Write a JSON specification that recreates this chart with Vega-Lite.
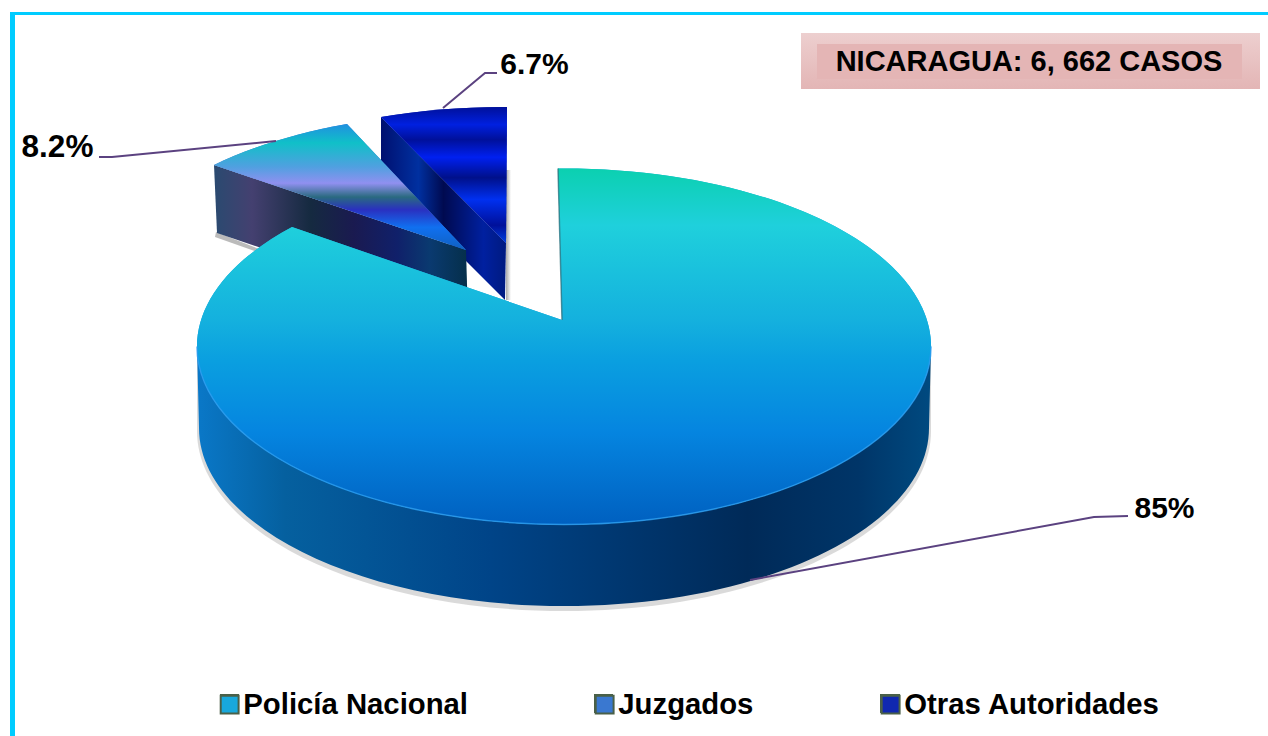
{
"$schema":"https://vega.github.io/schema/vega-lite/v6.json",
"width":1268,"height":736,"padding":0,
"autosize":{"type":"fit","contains":"padding"},
"background":"white",
"config":{"view":{"stroke":null}},
"data":{"values":[
{"authority":"Otras Autoridades","share":6.7,"label":"6.7%"},
{"authority":"Juzgados","share":8.2,"label":"8.2%"},
{"authority":"Policía Nacional","share":85,"label":"85%"}
]},
"resolve":{"scale":{"shape":"independent"}},
"layer":[
{"data":{"values":[{"caption":"NICARAGUA: 6, 662 CASOS"}]},
 "mark":{"type":"point","filled":true,"size":4,"opacity":1,"fill":"#00CCFF","shape":"M-624,368H-619V-353H634V-356H-624Z"}},
{"data":{"values":[{"caption":"NICARAGUA: 6, 662 CASOS"}]},
 "mark":{"type":"point","filled":true,"size":4,"opacity":1,"shape":"M167,-335H626V-279H167Z",
  "fill":{"gradient":"linear","x1":0,"y1":0,"x2":0,"y2":1,"stops":[{"offset":0,"color":"#EDCFCF"},{"offset":1,"color":"#E3B5B5"}]}}},
{"data":{"values":[{"caption":"NICARAGUA: 6, 662 CASOS"}]},
 "mark":{"type":"point","filled":true,"size":4,"opacity":1,"fill":"#E4B5B5","shape":"M183,-324H608V-289H183Z"}},
{"data":{"values":[{"caption":"NICARAGUA: 6, 662 CASOS"}]},
 "mark":{"type":"text","font":"Liberation Sans","fontWeight":"bold","fontSize":29,"color":"#000000","align":"center","baseline":"middle","dx":395,"dy":-306},
 "encoding":{"text":{"field":"caption"}}},

{"transform":[{"filter":"datum.share==6.7"}],
 "mark":{"type":"point","filled":true,"size":4,"opacity":1,"shape":"M-128,-198H-123V-68H-128Z",
  "fill":{"gradient":"linear","x1":0,"y1":0,"x2":1,"y2":0,"stops":[{"offset":0,"color":"#AAAAAA"},{"offset":1,"color":"#FFFFFF"}]}}},
{"transform":[{"filter":"datum.share==6.7"}],
 "mark":{"type":"point","filled":true,"size":4,"opacity":1,"shape":"M-253,-251L-128,-125L-129,-68L-253,-192Z",
  "fill":{"gradient":"linear","x1":0,"y1":0,"x2":1,"y2":0,"stops":[{"offset":0,"color":"#001070"},{"offset":0.3,"color":"#0030A0"},{"offset":0.5,"color":"#000A50"},{"offset":0.82,"color":"#0020A0"},{"offset":1,"color":"#001A80"}]}}},
{"transform":[{"filter":"datum.share==8.2"}],
 "mark":{"type":"point","filled":true,"size":4,"opacity":0.5,"fill":"#777777","shape":"M-418,-136L-370,-117L-374,-115L-419,-131Z"}},
{"transform":[{"filter":"datum.share==8.2"}],
 "mark":{"type":"point","filled":true,"size":4,"opacity":1,"shape":"M-420,-203L-168,-118L-166,-50L-417,-135Z",
  "fill":{"gradient":"linear","x1":0,"y1":0,"x2":1,"y2":0,"stops":[{"offset":0,"color":"#2A4A70"},{"offset":0.15,"color":"#444070"},{"offset":0.38,"color":"#152A40"},{"offset":0.55,"color":"#1A1A50"},{"offset":0.72,"color":"#10206A"},{"offset":0.85,"color":"#0A3A70"},{"offset":1,"color":"#052F4A"}]}}},
{"transform":[{"filter":"datum.share==85"}],
 "mark":{"type":"point","filled":true,"size":4,"opacity":0.22,"fill":"#555555","shape":"M-437,-15L-437,63A367,180 0 0 0 297,63L297,-15Z"}},
{"transform":[{"filter":"datum.share==85"}],
 "mark":{"type":"point","filled":true,"size":4,"opacity":1,"shape":"M-437,-21.5L-435,60A365,178 0 0 0 295,60L297,-21.5A367,178 0 0 1 -437,-21.5Z",
  "fill":{"gradient":"linear","x1":0,"y1":0,"x2":1,"y2":0,"stops":[{"offset":0,"color":"#0A78C8"},{"offset":0.12,"color":"#05609F"},{"offset":0.4,"color":"#004488"},{"offset":0.75,"color":"#002A58"},{"offset":0.9,"color":"#003568"},{"offset":1,"color":"#004A80"}]}}},

{"mark":{"type":"point","filled":true,"size":4,"opacity":1},
 "encoding":{
  "shape":{"field":"authority","type":"nominal","legend":null,"scale":{"domain":["Policía Nacional","Juzgados","Otras Autoridades"],"range":["M-72,-48L-76,-199.5A367,178 0 1 1 -342,-141Z","M-420,-203A367,178 0 0 1 -287,-244L-168,-118Z","M-253,-251A367,178 0 0 1 -127,-261L-128,-125Z"]}},
  "fill":{"field":"authority","type":"nominal","sort":null,
   "scale":{"domain":["Policía Nacional","Juzgados","Otras Autoridades"],"range":["#18A8DC","#3A78D0","#1028B0"]},
   "legend":{"title":null,"orient":"none","legendX":215,"legendY":690,"zindex":0,"direction":"horizontal","columns":3,"gridAlign":"none","columnPadding":122,"symbolType":"square","symbolSize":320,"symbolStrokeColor":"#4A6048","symbolStrokeWidth":2,"labelFont":"Liberation Sans","labelFontWeight":"bold","labelFontSize":29.3,"labelColor":"#000000","labelLimit":500,"labelOffset":-1}}
 }},
{"transform":[{"filter":"datum.share==6.7"}],
 "mark":{"type":"point","filled":true,"size":4,"opacity":1,"shape":"M-253,-251A367,178 0 0 1 -127,-261L-128,-125Z",
  "fill":{"gradient":"linear","x1":0,"y1":0,"x2":0,"y2":1,"stops":[{"offset":0,"color":"#00109A"},{"offset":0.13,"color":"#0020E0"},{"offset":0.24,"color":"#00109A"},{"offset":0.37,"color":"#0020F0"},{"offset":0.52,"color":"#00108A"},{"offset":0.68,"color":"#0030F0"},{"offset":0.87,"color":"#00109A"},{"offset":1,"color":"#0040E0"}]}}},
{"transform":[{"filter":"datum.share==8.2"}],
 "mark":{"type":"point","filled":true,"size":4,"opacity":1,"shape":"M-420,-203A367,178 0 0 1 -287,-244L-168,-118Z",
  "fill":{"gradient":"linear","x1":0,"y1":0,"x2":0,"y2":1,"stops":[{"offset":0,"color":"#2090E0"},{"offset":0.15,"color":"#10C0C8"},{"offset":0.34,"color":"#50A0E0"},{"offset":0.47,"color":"#9090F0"},{"offset":0.58,"color":"#2A6A80"},{"offset":0.68,"color":"#2A30C0"},{"offset":0.82,"color":"#1070F0"},{"offset":1,"color":"#1060C0"}]}}},
{"transform":[{"filter":"datum.share==85"}],
 "mark":{"type":"point","filled":true,"size":4,"opacity":1,"shape":"M-72,-48L-76,-199.5A367,178 0 1 1 -342,-141Z",
  "fill":{"gradient":"linear","x1":0,"y1":0,"x2":0,"y2":1,"stops":[{"offset":0,"color":"#0BD0B0"},{"offset":0.16,"color":"#1FD0DC"},{"offset":0.43,"color":"#14B0DE"},{"offset":0.54,"color":"#0A9FE0"},{"offset":0.74,"color":"#0585E0"},{"offset":1,"color":"#0060C0"}]}}},
{"transform":[{"filter":"datum.share==85"}],
 "mark":{"type":"point","filled":false,"size":4,"opacity":0.8,"stroke":"#2A9CF0","strokeWidth":1.5,"shape":"M-437,-21.5A367,178 0 0 0 297,-21.5"}},
{"transform":[{"filter":"datum.share==85"}],
 "mark":{"type":"point","filled":false,"size":4,"opacity":0.7,"stroke":"#2F6F7A","strokeWidth":1.5,"shape":"M-76,-199.5L-72,-48"}},

{"transform":[{"filter":"datum.share==85"}],
 "mark":{"type":"point","filled":true,"size":4,"opacity":1,"stroke":"#4A6048","strokeWidth":2,"shape":"M-413,327H-396V344H-413Z",
  "fill":{"gradient":"linear","x1":0,"y1":0,"x2":0,"y2":1,"stops":[{"offset":0,"color":"#30E8F0"},{"offset":1,"color":"#1080D0"}]}}},
{"transform":[{"filter":"datum.share==8.2"}],
 "mark":{"type":"point","filled":true,"size":4,"opacity":1,"stroke":"#4A6048","strokeWidth":2,"shape":"M-39,327H-22V344H-39Z",
  "fill":{"gradient":"linear","x1":0,"y1":0,"x2":0,"y2":1,"stops":[{"offset":0,"color":"#2080C0"},{"offset":0.45,"color":"#A0B0F0"},{"offset":1,"color":"#2848C0"}]}}},
{"transform":[{"filter":"datum.share==6.7"}],
 "mark":{"type":"point","filled":true,"size":4,"opacity":1,"stroke":"#4A6048","strokeWidth":2,"shape":"M247,327H265V344H247Z",
  "fill":{"gradient":"linear","x1":0,"y1":0,"x2":0,"y2":1,"stops":[{"offset":0,"color":"#102090"},{"offset":0.5,"color":"#0030F0"},{"offset":1,"color":"#1030B0"}]}}},

{"mark":{"type":"point","filled":false,"size":4,"opacity":1,"stroke":"#5B4280","strokeWidth":2},
 "encoding":{"shape":{"field":"authority","type":"nominal","legend":null,"scale":{"domain":["Policía Nacional","Juzgados","Otras Autoridades"],"range":["M116,212L460,149L494,148","M-535,-211L-522,-211L-358,-227","M-191,-260L-149,-295L-137,-295"]}}}},
{"mark":{"type":"text","font":"Liberation Sans","fontWeight":"bold","color":"#000000","align":"center","baseline":"middle"},
 "encoding":{
  "text":{"field":"label"},
  "x":{"field":"share","type":"quantitative","axis":null,"scale":{"domain":[6.7,8.2,85],"range":[534.5,57.5,1164.5],"nice":false,"zero":false}},
  "y":{"field":"share","type":"quantitative","axis":null,"scale":{"domain":[6.7,8.2,85],"range":[65,148,509],"nice":false,"zero":false}},
  "size":{"field":"share","type":"quantitative","legend":null,"scale":{"domain":[6.7,8.2,85],"range":[30,31.5,30],"zero":false}}
 }}
]
}
